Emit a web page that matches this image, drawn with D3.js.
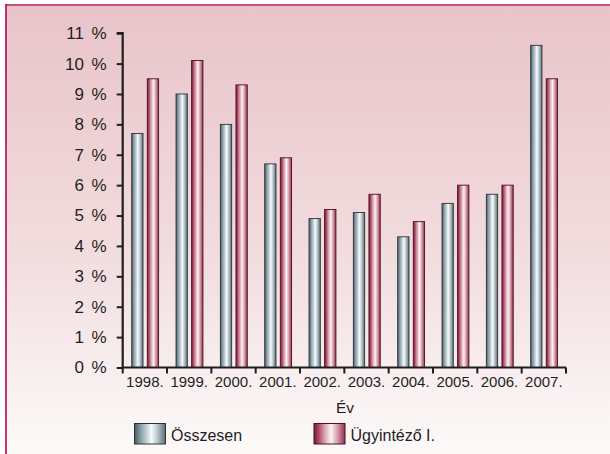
<!DOCTYPE html>
<html><head><meta charset="utf-8">
<script src="https://cdn.jsdelivr.net/npm/d3@7"></script>
<style>
html,body{margin:0;padding:0;background:#fff;}
svg{display:block;font-family:"Liberation Sans",Arial,sans-serif;}
</style></head>
<body>
<svg id="chart" width="610" height="454"></svg>
<script>
const years = ["1998.","1999.","2000.","2001.","2002.","2003.","2004.","2005.","2006.","2007."];
const osszesen = [7.7, 9.0, 8.0, 6.7, 4.9, 5.1, 4.3, 5.4, 5.7, 10.6];
const ugyintezo = [9.5, 10.1, 9.3, 6.9, 5.2, 5.7, 4.8, 6.0, 6.0, 9.5];
const yTicks = [0,1,2,3,4,5,6,7,8,9,10,11];
const seriesNames = ["Összesen", "Ügyintéző I."];
const xTitle = "Év";

const svg = d3.select("#chart");
const defs = svg.append("defs");

const bg = defs.append("linearGradient").attr("id","bg").attr("x1",0).attr("y1",0).attr("x2",0).attr("y2",1);
bg.append("stop").attr("offset","0%").attr("stop-color","#e8c4c9");
bg.append("stop").attr("offset","55%").attr("stop-color","#f2dcde");
bg.append("stop").attr("offset","100%").attr("stop-color","#fdfafa");

function barGrad(id, stops){
  const g = defs.append("linearGradient").attr("id",id).attr("x1",0).attr("y1",0).attr("x2",1).attr("y2",0);
  stops.forEach(s=>g.append("stop").attr("offset",s[0]).attr("stop-color",s[1]));
}
barGrad("gGray", [["0%","#46565e"],["15%","#7d9099"],["35%","#b8c6cc"],["55%","#f8fbfc"],["75%","#b4c3ca"],["100%","#5a6c75"]]);
barGrad("gPink", [["0%","#7a1836"],["15%","#ab4966"],["35%","#dca6b4"],["55%","#fcf3f5"],["75%","#d8a0ae"],["100%","#92304e"]]);

// background
svg.append("rect").attr("x",6).attr("y",5).attr("width",604).attr("height",449).attr("fill","url(#bg)");
svg.append("line").attr("x1",6).attr("x2",610).attr("y1",5).attr("y2",5).attr("stroke","#c8507c").attr("stroke-width",2);
svg.append("line").attr("x1",6).attr("x2",6).attr("y1",4).attr("y2",454).attr("stroke","#b4005a").attr("stroke-width",1.6);

const x0 = 122.7, x1 = 566, yBase = 367.5, yTop = 33.2;
const x = d3.scaleBand().domain(years).range([x0, x1]).paddingInner(0).paddingOuter(0);
const y = d3.scaleLinear().domain([0, 11]).range([yBase, yTop]);
const bw = 11.3;
const offs = [9.0, 24.6];

// bars
const data = years.map((yr,i)=>({yr, v:[osszesen[i], ugyintezo[i]]}));
const grads = ["url(#gGray)","url(#gPink)"];
const strokes = ["#2c3438","#4a0f22"];
[0,1].forEach(s=>{
  svg.append("g").selectAll("rect").data(data).join("rect")
    .attr("x", d=>x(d.yr)+offs[s])
    .attr("y", d=>y(d.v[s]))
    .attr("width", bw)
    .attr("height", d=>yBase - y(d.v[s]))
    .attr("fill", grads[s])
    .attr("stroke", strokes[s]).attr("stroke-width",0.9);
});

// y axis
const yAxis = d3.axisLeft(y).tickValues(yTicks).tickSize(6).tickPadding(10).tickFormat(d=>d+" %");
const gy = svg.append("g").attr("transform",`translate(${x0},0)`).call(yAxis);
gy.select(".domain").attr("stroke","#1e1e1e").attr("stroke-width",2.2).attr("d",`M-6,${yTop}H0V${yBase}`);
gy.selectAll(".tick line").attr("stroke","#1e1e1e").attr("stroke-width",2);
gy.selectAll(".tick text").attr("font-size",17).attr("fill","#1e1e1e").attr("font-family","Liberation Sans, Arial, sans-serif").attr("word-spacing","3px");

// x axis
const xAxis = d3.axisBottom(x).tickSize(0).tickPadding(9);
const gx = svg.append("g").attr("transform",`translate(0,${yBase})`).call(xAxis);
gx.select(".domain").attr("stroke","#1e1e1e").attr("stroke-width",2.2).attr("d",`M${x0},0H${x1}`);
gx.selectAll(".tick text").attr("font-size",15).attr("fill","#1e1e1e").attr("font-family","Liberation Sans, Arial, sans-serif");
// category boundary ticks
const bounds = years.map(d=>x(d)).concat([x1]);
svg.append("g").selectAll("line").data(bounds).join("line")
  .attr("x1",d=>d).attr("x2",d=>d).attr("y1",yBase).attr("y2",yBase+6)
  .attr("stroke","#1e1e1e").attr("stroke-width",2);

// x title
svg.append("text").attr("x",345).attr("y",413).attr("text-anchor","middle")
  .attr("font-size",15.5).attr("fill","#1e1e1e").text(xTitle);

// legend
const leg = [{x:134.5, g:"url(#gGray)", s:"#2c3438", t:seriesNames[0]},{x:314, g:"url(#gPink)", s:"#4a0f22", t:seriesNames[1]}];
leg.forEach(l=>{
  svg.append("rect").attr("x",l.x).attr("y",423.5).attr("width",31).attr("height",20.5)
    .attr("fill",l.g).attr("stroke",l.s).attr("stroke-width",1);
  svg.append("text").attr("x",l.x+36.5).attr("y",440.5).attr("font-size",16).attr("fill","#1e1e1e").text(l.t);
});
</script>
</body></html>
